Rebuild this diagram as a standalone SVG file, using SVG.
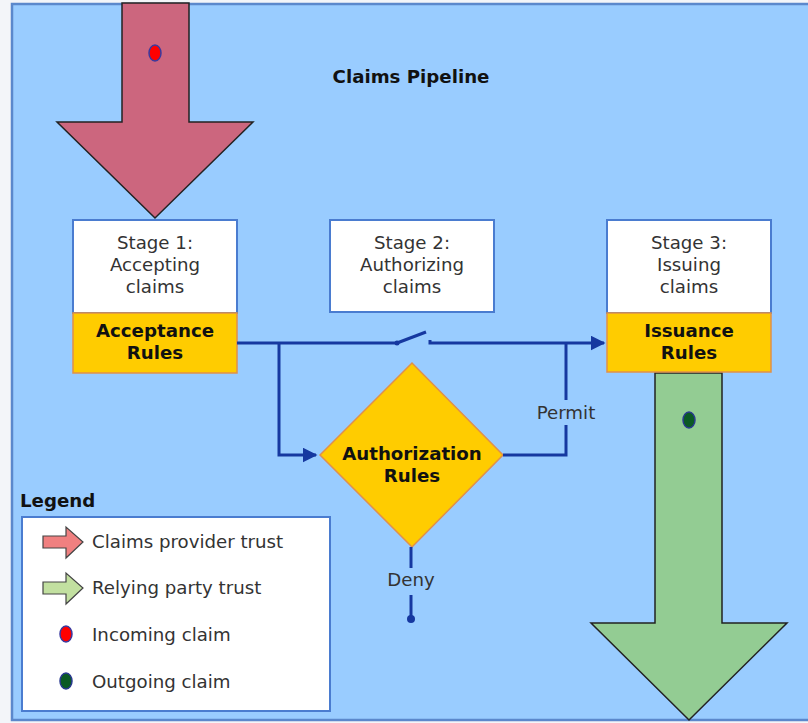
<svg xmlns="http://www.w3.org/2000/svg" width="808" height="723" viewBox="0 0 808 723">
<style>
text{font-family:"DejaVu Sans","Liberation Sans",sans-serif;fill:#333;font-size:18.2px}
.c{text-anchor:middle}
.b{font-weight:bold;fill:#111}
.stage{fill:#fff;stroke:#4a7cd0;stroke-width:2}
.rules{fill:#ffcc00;stroke:#e0904a;stroke-width:1.5}
.conn{fill:none;stroke:#1638a0;stroke-width:3}
.big{stroke:#222;stroke-width:1.5}
</style>
<defs>
<marker id="ah" viewBox="0 0 10 10" refX="9" refY="5" markerWidth="5" markerHeight="5" orient="auto" markerUnits="strokeWidth">
<path d="M0,0 L10,5 L0,10 z" fill="#1638a0"/>
</marker>
</defs>
<rect x="0" y="0" width="808" height="723" fill="#f3f5f9"/>
<rect x="12" y="4" width="800" height="716" fill="#99ccff" stroke="#5b88cc" stroke-width="2.5"/>

<g id="incoming-arrow">
<path class="big" d="M122,3 L189,3 L189,122 L253,122 L155,218 L57,122 L122,122 Z" fill="#cc667e"/>
<ellipse cx="155" cy="53" rx="6" ry="8" fill="#ff0000" stroke="#3a3aa0" stroke-width="1.5"/>
</g>

<g id="outgoing-arrow">
<path class="big" d="M655,373 L722,373 L722,623 L787,623 L689,720 L591,623 L655,623 Z" fill="#93cc93"/>
<ellipse cx="689" cy="420" rx="6" ry="8" fill="#0b5a24" stroke="#2a3a90" stroke-width="1.5"/>
</g>

<text class="b c" x="411" y="83">Claims Pipeline</text>

<g id="stage1">
<rect class="stage" x="73" y="220" width="164" height="93"/>
<rect class="rules" x="73" y="313" width="164" height="60"/>
<text class="c" x="155" y="249">Stage 1:</text>
<text class="c" x="155" y="271">Accepting</text>
<text class="c" x="155" y="293">claims</text>
<text class="c b" x="155" y="337">Acceptance</text>
<text class="c b" x="155" y="359">Rules</text>
</g>

<g id="stage2">
<rect class="stage" x="330" y="220" width="164" height="92"/>
<text class="c" x="412" y="249">Stage 2:</text>
<text class="c" x="412" y="271">Authorizing</text>
<text class="c" x="412" y="293">claims</text>
</g>

<g id="stage3">
<rect class="stage" x="607" y="220" width="164" height="93"/>
<rect class="rules" x="607" y="313" width="164" height="59"/>
<text class="c" x="689" y="249">Stage 3:</text>
<text class="c" x="689" y="271">Issuing</text>
<text class="c" x="689" y="293">claims</text>
<text class="c b" x="689" y="337">Issuance</text>
<text class="c b" x="689" y="359">Rules</text>
</g>

<g id="authorization">
<path d="M320,455 L412,363 L503,455 L412,547 Z" fill="#ffcc00" stroke="#e0904a" stroke-width="1.5"/>
<text class="c b" x="412" y="460">Authorization</text>
<text class="c b" x="412" y="482">Rules</text>
</g>

<g id="connectors">
<path class="conn" d="M237,343 L397,343"/>
<circle cx="397" cy="343" r="2.5" fill="#1638a0"/>
<path class="conn" stroke-width="2" d="M397,343 L426,332"/>
<path class="conn" d="M430,340 L430,343 L604,343" marker-end="url(#ah)"/>
<path class="conn" d="M279,343 L279,455 L316,455" marker-end="url(#ah)"/>
<path class="conn" d="M503,455 L566,455 L566,425"/>
<path class="conn" d="M566,400 L566,343"/>
<text class="c" x="566" y="419">Permit</text>
<path class="conn" d="M411,547 L411,568"/>
<text class="c" x="411" y="586">Deny</text>
<path class="conn" d="M411,595 L411,618"/>
<circle cx="411" cy="619" r="4" fill="#1638a0"/>
</g>

<g id="legend">
<text class="b" x="20" y="507">Legend</text>
<rect x="22" y="517" width="308" height="194" fill="#fff" stroke="#4a7cd0" stroke-width="2"/>
<path d="M43,536 L66,536 L66,527 L83,542 L66,558 L66,548 L43,548 Z" fill="#f08080" stroke="#444" stroke-width="1.2"/>
<text x="92" y="548">Claims provider trust</text>
<path d="M43,582 L66,582 L66,573 L83,588 L66,604 L66,594 L43,594 Z" fill="#c2e0a0" stroke="#444" stroke-width="1.2"/>
<text x="92" y="594">Relying party trust</text>
<ellipse cx="66" cy="634" rx="6" ry="8" fill="#ff0000" stroke="#3a3aa0" stroke-width="1.5"/>
<text x="92" y="641">Incoming claim</text>
<ellipse cx="66" cy="681" rx="6" ry="8" fill="#0b5a24" stroke="#2a3a90" stroke-width="1.5"/>
<text x="92" y="688">Outgoing claim</text>
</g>
</svg>
